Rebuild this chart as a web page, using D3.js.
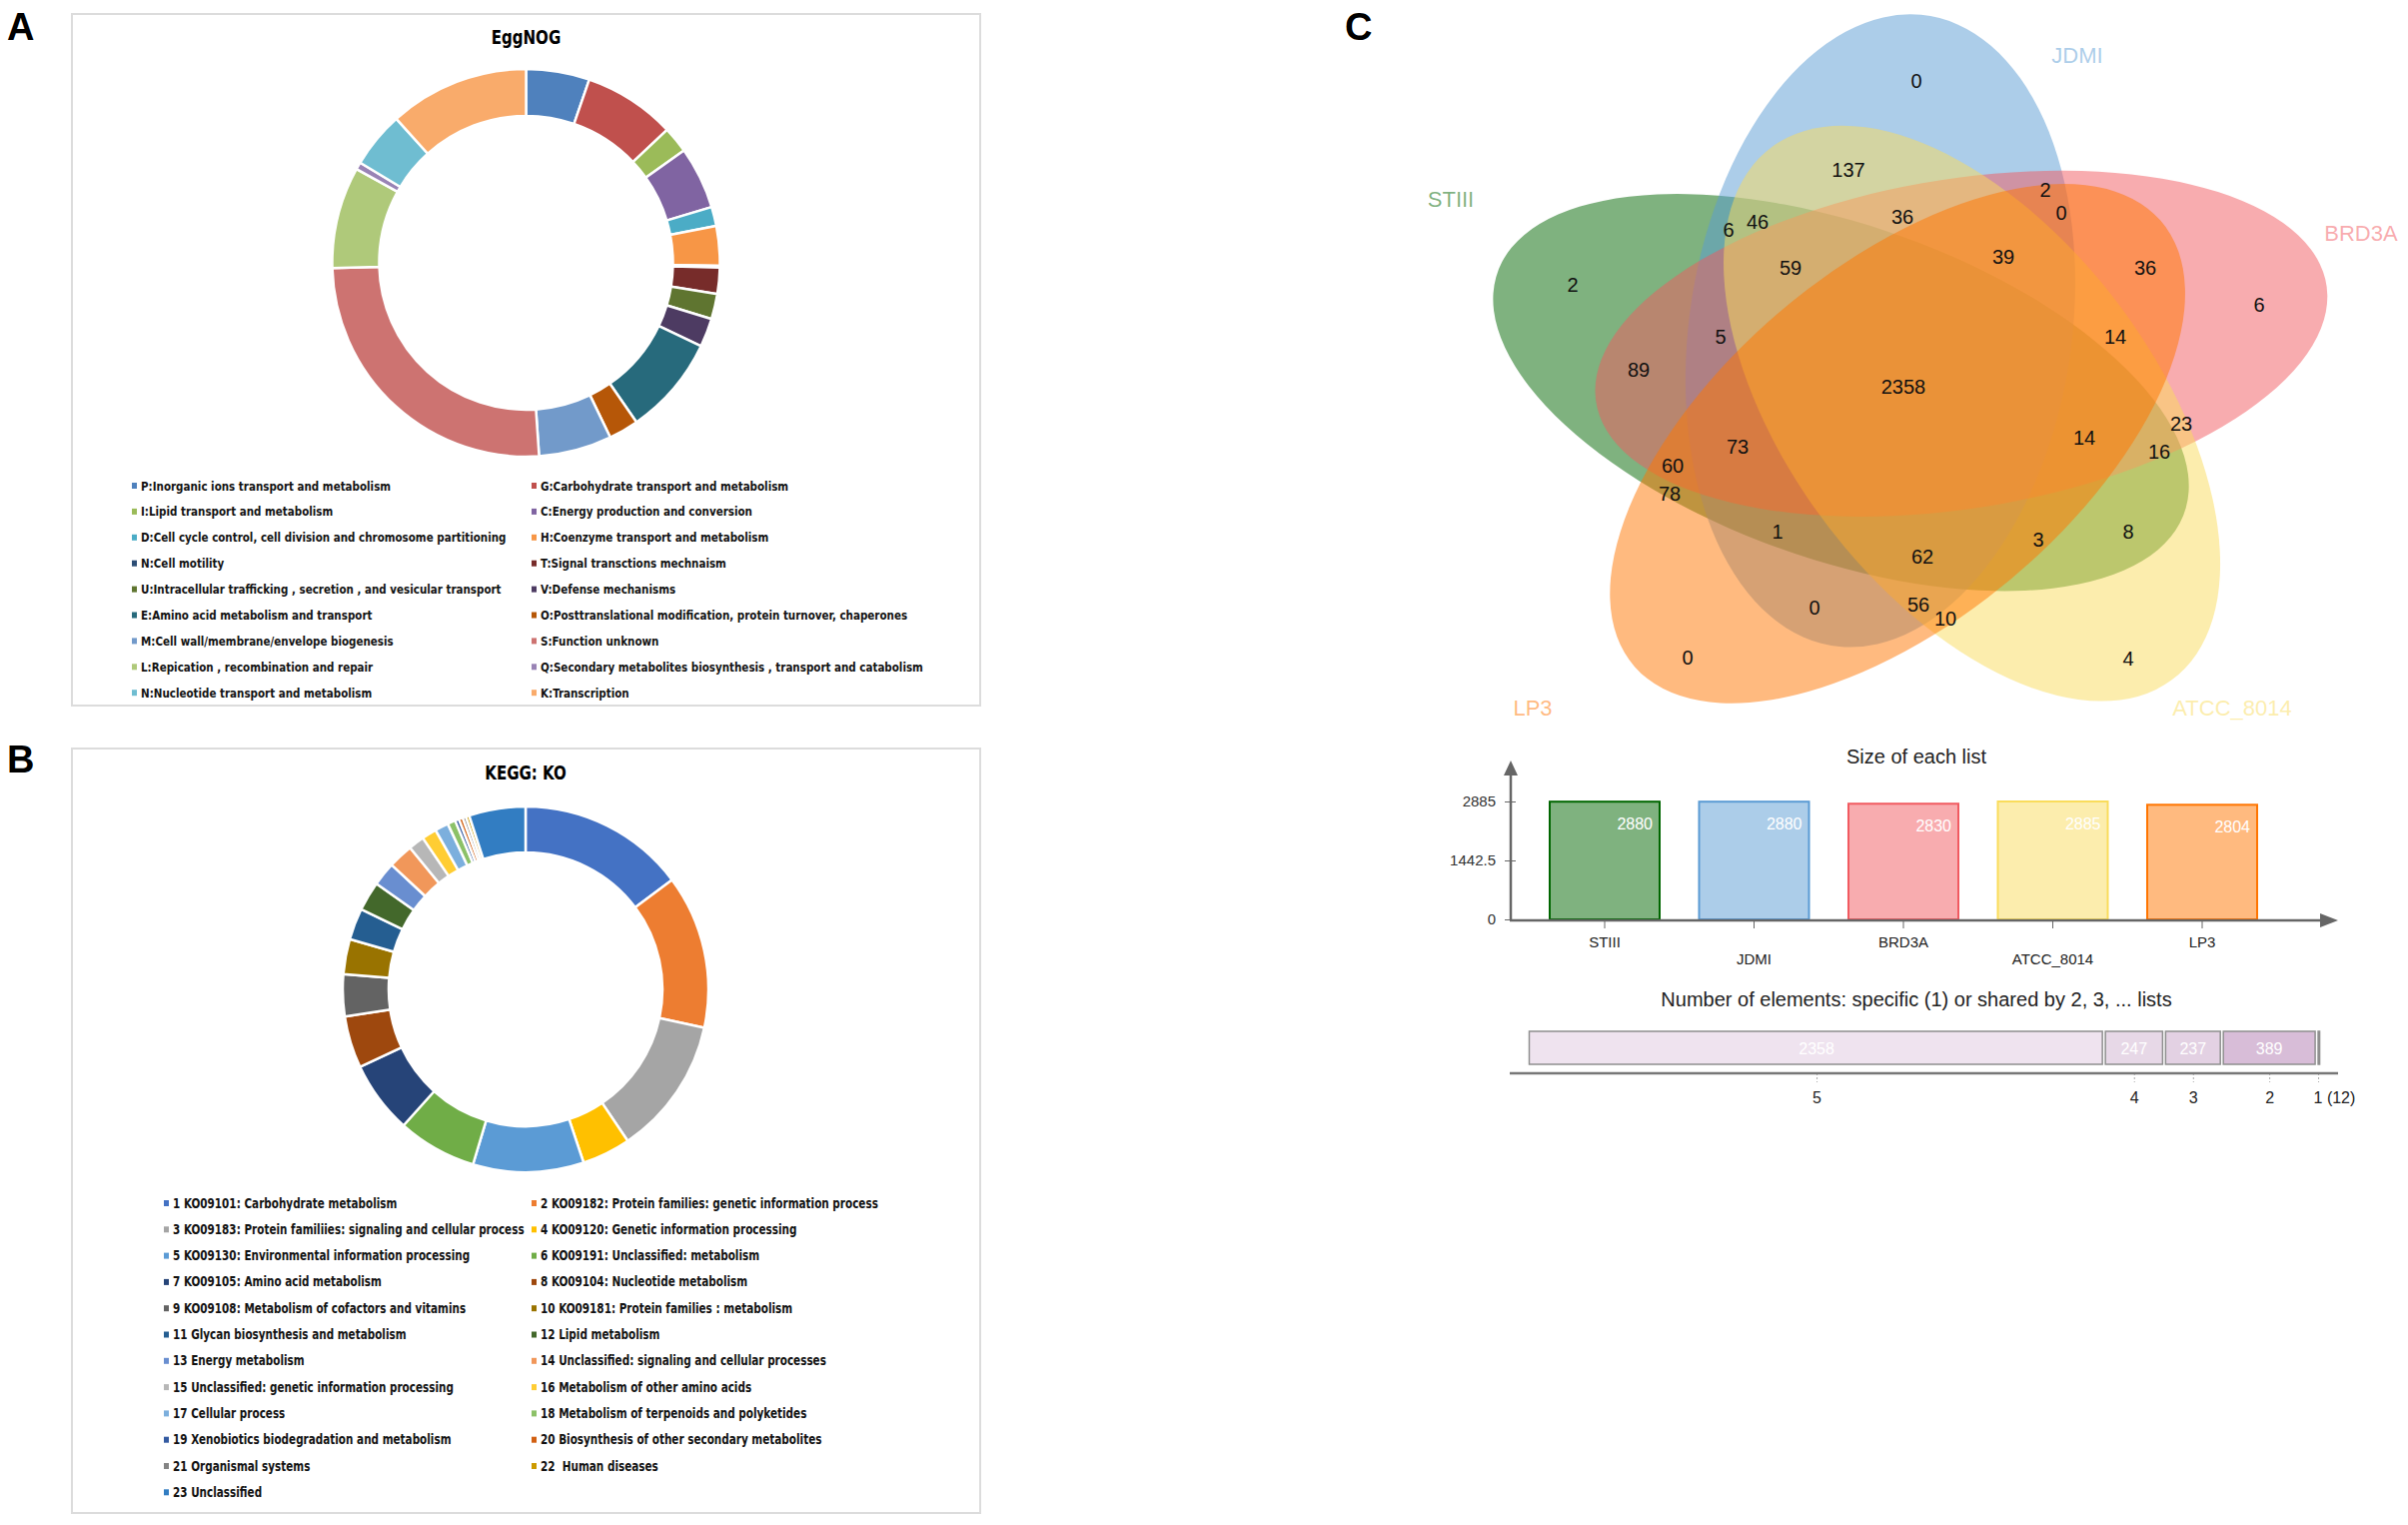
<!DOCTYPE html>
<html>
<head>
<meta charset="utf-8">
<script src="https://cdn.jsdelivr.net/npm/d3@7"></script>
<style>
  html, body { margin: 0; padding: 0; background: #fff; }
  svg { display: block; }
  .panel-letter { font-family: "Liberation Sans", Arial, sans-serif; font-weight: bold; font-size: 38px; fill: #000; }
  .donut-title { font-family: "Liberation Sans Narrow", "Arial Narrow", "DejaVu Sans Condensed", sans-serif; font-weight: bold; font-size: 19px; fill: #000; }
  .legend text { font-family: "Liberation Sans Narrow", "Arial Narrow", "DejaVu Sans Condensed", sans-serif; font-weight: bold; font-size: 13px; fill: #111; white-space: pre; }
  .venn text, .stats text { font-family: "Liberation Sans", Arial, sans-serif; }
</style>
</head>
<body>
<svg id="fig" width="2410" height="1526"></svg>
<script>
// ---- A: EggNOG (slice order = legend order, clockwise from 12 o'clock), % of genes
var eggnogLabels = [
    "P:Inorganic ions transport and metabolism",
    "G:Carbohydrate transport and metabolism",
    "I:Lipid transport and metabolism",
    "C:Energy production and conversion",
    "D:Cell cycle control, cell division and chromosome partitioning",
    "H:Coenzyme transport and metabolism",
    "N:Cell motility",
    "T:Signal transctions mechnaism",
    "U:Intracellular trafficking , secretion , and vesicular transport",
    "V:Defense mechanisms",
    "E:Amino acid metabolism and transport",
    "O:Posttranslational modification, protein turnover, chaperones",
    "M:Cell wall/membrane/envelope biogenesis",
    "S:Function unknown",
    "L:Repication , recombination and repair",
    "Q:Secondary metabolites biosynthesis , transport and catabolism",
    "N:Nucleotide transport and metabolism",
    "K:Transcription"
];
var eggnogValues = [5.3, 7.7, 2.2, 5.2, 1.6, 3.3, 0.15, 2.2, 2.1, 2.4, 8.3, 2.5, 6.1, 25.7, 8.5, 0.6, 4.7, 11.7];
var eggnogColors = ["#4f81bd", "#c0504d", "#9bbb59", "#8064a2", "#4bacc6", "#f79646",
                    "#2c4d75", "#772c2a", "#5f7530", "#4d3b62", "#276a7c", "#b65708",
                    "#729aca", "#cd7371", "#afc97a", "#9983b5", "#6fbdd1", "#f9ab6b"];

// ---- B: KEGG KO level-2 categories, % of genes
var keggLabels = [
    "1 KO09101: Carbohydrate metabolism",
    "2 KO09182: Protein families: genetic information process",
    "3 KO09183: Protein familiies: signaling and cellular process",
    "4 KO09120: Genetic information processing",
    "5 KO09130: Environmental information processing",
    "6 KO09191: Unclassified: metabolism",
    "7 KO09105: Amino acid metabolism",
    "8 KO09104: Nucleotide metabolism",
    "9 KO09108: Metabolism of cofactors and vitamins",
    "10 KO09181: Protein families : metabolism",
    "11 Glycan biosynthesis and metabolism",
    "12 Lipid metabolism",
    "13 Energy metabolism",
    "14 Unclassified: signaling and cellular processes",
    "15 Unclassified: genetic information processing",
    "16 Metabolism of other amino acids",
    "17 Cellular process",
    "18 Metabolism of terpenoids and polyketides",
    "19 Xenobiotics biodegradation and metabolism",
    "20 Biosynthesis of other secondary metabolites",
    "21 Organismal systems",
    "22  Human diseases",
    "23 Unclassified"
];
var keggValues = [14.8, 13.6, 12.2, 4.3, 9.8, 7.0, 6.4, 4.6, 3.7, 3.1, 2.8, 2.6, 2.1, 2.2, 1.4, 1.3, 1.2, 0.7, 0.35, 0.35, 0.3, 0.3, 5.0];
var keggColors = ["#4472c4", "#ed7d31", "#a5a5a5", "#ffc000", "#5b9bd5", "#70ad47",
                  "#264478", "#9e480e", "#636363", "#997300", "#255e91", "#43682b",
                  "#698ed0", "#f1975a", "#b7b7b7", "#ffcd33", "#7cafdd", "#8cc168",
                  "#335aa1", "#d26012", "#848484", "#cc9a00", "#327dc2"];

// ---- C: five strains
var listNames  = ["STIII", "JDMI", "BRD3A", "ATCC_8014", "LP3"];
var listSizes  = [2880, 2880, 2830, 2885, 2804];
var listColors = ["rgb(0,102,0)", "rgb(90,155,212)", "rgb(241,90,96)", "rgb(250,220,91)", "rgb(255,117,0)"];
var sizeTicks  = [0, 1442.5, 2885];

// counts of the 31 Venn regions
var regionCounts = [0, 137, 2, 0, 36, 46, 6, 59, 39, 36, 2, 6, 5, 14, 89, 2358,
                    23, 14, 16, 73, 60, 78, 8, 1, 3, 62, 0, 56, 10, 0, 4];

// elements shared by 5, 4, 3, 2 lists and specific to 1 list
var sharedBy     = ["5", "4", "3", "2", "1"];
var sharedCounts = [2358, 247, 237, 389, 12];
var sharedColors = ["#efe3ef", "#e7d8e7", "#e3d1e3", "#d8bdd8", "#a9a1a9"];

// ---------------------------------------------------------------- layout
var svg = d3.select("#fig");
svg.append("rect").attr("width", 2410).attr("height", 1526).attr("fill", "#fff");

svg.append("text").attr("class", "panel-letter").attr("x", 7).attr("y", 40).text("A");
svg.append("text").attr("class", "panel-letter").attr("x", 7).attr("y", 773).text("B");
svg.append("text").attr("class", "panel-letter").attr("x", 1346).attr("y", 40).text("C");

function drawDonut(cfg) {
    var g = svg.append("g");
    g.append("rect")
        .attr("x", cfg.box[0]).attr("y", cfg.box[1])
        .attr("width", cfg.box[2]).attr("height", cfg.box[3])
        .attr("fill", "#fff").attr("stroke", "#dcdcdc").attr("stroke-width", 2);

    // no narrow font installed: squeeze the bold sans instead
    g.append("text").attr("class", "donut-title")
        .attr("transform", "translate(" + cfg.center[0] + "," + cfg.titleY + ") scale(0.88,1)")
        .attr("text-anchor", "middle").text(cfg.title);

    var pie = d3.pie().sort(null).value(function(d){ return d; });
    var arc = d3.arc().innerRadius(cfg.inner).outerRadius(cfg.outer);

    g.append("g")
        .attr("transform", "translate(" + cfg.center + ")")
        .selectAll("path")
        .data(pie(cfg.values))
        .join("path")
        .attr("d", arc)
        .attr("fill", function(d, i){ return cfg.colors[i]; })
        .attr("stroke", "#fff")
        .attr("stroke-width", 2.5)
        .attr("stroke-linejoin", "round");

    // two-column legend, row-major
    var leg = g.append("g").attr("class", "legend");
    var item = leg.selectAll("g")
        .data(cfg.labels)
        .join("g")
        .attr("transform", function(d, i){
            return "translate(" + cfg.legendX[i % 2] + "," + (cfg.legendY + Math.floor(i / 2) * cfg.legendStep) + ")";
        });
    item.append("rect")
        .attr("x", 0).attr("y", -3).attr("width", 5).attr("height", 6)
        .attr("fill", function(d, i){ return cfg.colors[i]; });
    item.append("text")
        .attr("transform", "translate(9,4.5) scale(" + cfg.legendSqueeze + ",1)")
        .style("font-size", cfg.legendFont + "px")
        .text(function(d){ return d; });
}

drawDonut({
    title: "EggNOG", box: [72, 14, 909, 692], titleY: 44,
    center: [526.5, 263], outer: 194, inner: 147,
    values: eggnogValues, colors: eggnogColors, labels: eggnogLabels,
    legendX: [132, 532], legendY: 486, legendStep: 25.9, legendFont: 12.5, legendSqueeze: 0.92
});

drawDonut({
    title: "KEGG: KO", box: [72, 749, 909, 765], titleY: 780,
    center: [526, 990], outer: 183, inner: 137,
    values: keggValues, colors: keggColors, labels: keggLabels,
    legendX: [164, 532], legendY: 1204, legendStep: 26.3, legendFont: 13.5, legendSqueeze: 0.86
});

// ---------------------------------------------------------------- C: Venn
// jvenn style 5-ellipse flower, stretched horizontally
var vennCenter = [1912, 385], vennStretch = 1.17;
var ellipseA = 318, ellipseB = 164, ellipseOffset = [-25.7, -54.1], ellipseTilt = 6.3;
var vennSlot = [4, 0, 1, 2, 3];   // place of each list around the flower, clockwise from top

var venn = svg.append("g").attr("class", "venn");
venn.append("g")
    .attr("transform", "translate(" + vennCenter + ") scale(" + vennStretch + ",1)")
    .selectAll("ellipse")
    .data(listNames)
    .join("ellipse")
    .attr("transform", function(d, i){
        return "rotate(" + vennSlot[i] * 72 + ") translate(" + ellipseOffset + ") rotate(" + ellipseTilt + ")";
    })
    .attr("rx", ellipseB).attr("ry", ellipseA)
    .attr("fill", function(d, i){ return listColors[i]; })
    .attr("fill-opacity", 0.5);

var setLabelPos = [[1452, 199], [2079, 55], [2363, 233], [2234, 708], [1534, 708]];
venn.selectAll("text.setname")
    .data(listNames)
    .join("text")
    .attr("class", "setname")
    .attr("x", function(d, i){ return setLabelPos[i][0]; })
    .attr("y", function(d, i){ return setLabelPos[i][1] + 8; })
    .attr("text-anchor", "middle")
    .style("font-size", "22px")
    .attr("fill", function(d, i){ return listColors[i]; })
    .attr("fill-opacity", 0.5)
    .text(function(d){ return d; });

var regionLabelPos = [
    [1918, 81], [1850, 170], [2047, 190], [2063, 213], [1904, 217], [1759, 222], [1730, 230],
    [1792, 268], [2005, 257], [2147, 268], [1574, 285], [2261, 305], [1722, 337], [2117, 337],
    [1640, 370], [1905, 387], [2183, 424], [2086, 438], [2161, 452], [1739, 447], [1674, 466],
    [1671, 494], [2130, 532], [1779, 532], [2040, 540], [1924, 557], [1816, 608], [1920, 605],
    [1947, 619], [1689, 658], [2130, 659]
];
venn.selectAll("text.count")
    .data(regionCounts)
    .join("text")
    .attr("class", "count")
    .attr("x", function(d, i){ return regionLabelPos[i][0]; })
    .attr("y", function(d, i){ return regionLabelPos[i][1] + 7; })
    .attr("text-anchor", "middle")
    .style("font-size", "20px")
    .attr("fill", "#111")
    .text(function(d){ return d; });

// ---------------------------------------------------------------- C: size of each list
var stats = svg.append("g").attr("class", "stats");
var axisColor = "#666";

stats.append("text")
    .attr("x", 1918).attr("y", 764).attr("text-anchor", "middle")
    .style("font-size", "20px").attr("fill", "#222")
    .text("Size of each list");

var x = d3.scaleBand().domain(listNames).range([1531.25, 2278.75]).paddingInner(0.2642).paddingOuter(0.1321);
var y = d3.scaleLinear().domain([0, 2885]).range([920, 802]);

stats.selectAll("rect.size")
    .data(listSizes)
    .join("rect")
    .attr("class", "size")
    .attr("x", function(d, i){ return x(listNames[i]); })
    .attr("y", function(d){ return y(d); })
    .attr("width", x.bandwidth())
    .attr("height", function(d){ return y(0) - y(d); })
    .attr("fill", function(d, i){ return listColors[i]; })
    .attr("fill-opacity", 0.5)
    .attr("stroke", function(d, i){ return listColors[i]; })
    .attr("stroke-width", 2);

stats.selectAll("text.size")
    .data(listSizes)
    .join("text")
    .attr("class", "size")
    .attr("x", function(d, i){ return x(listNames[i]) + x.bandwidth() - 7; })
    .attr("y", function(d){ return y(d) + 28; })
    .attr("text-anchor", "end")
    .style("font-size", "16px")
    .attr("fill", "#fff")
    .text(function(d){ return d; });

var yAxis = stats.append("g")
    .attr("transform", "translate(1512,0)")
    .call(d3.axisLeft(y).tickValues(sizeTicks).tickSizeOuter(0).tickSizeInner(6).tickPadding(9)
        .tickFormat(function(d){ return d; }));
yAxis.select(".domain").remove();
yAxis.selectAll(".tick line").attr("x1", -6).attr("x2", 5).attr("stroke", axisColor);
yAxis.selectAll(".tick text").style("font-size", "15px").attr("fill", "#333");

var xAxis = stats.append("g")
    .attr("transform", "translate(0,921)")
    .call(d3.axisBottom(x).tickSizeOuter(0).tickSizeInner(8).tickPadding(8));
xAxis.select(".domain").remove();
xAxis.selectAll(".tick line").attr("stroke", axisColor);
xAxis.selectAll(".tick text")
    .style("font-size", "15px").attr("fill", "#222")
    .attr("dy", function(d, i){ return i % 2 ? "1.85em" : "0.71em"; });

// axis lines with arrow heads
stats.append("path").attr("d", "M1512,921V772").attr("stroke", axisColor).attr("stroke-width", 2.5);
stats.append("path").attr("d", "M1505,776L1512,761L1519,776Z").attr("fill", axisColor);
stats.append("path").attr("d", "M1511,921H2326").attr("stroke", axisColor).attr("stroke-width", 2.5);
stats.append("path").attr("d", "M2322,914L2340,921L2322,928Z").attr("fill", axisColor);

// ---------------------------------------------------------------- C: shared elements
stats.append("text")
    .attr("x", 1918).attr("y", 1007).attr("text-anchor", "middle")
    .style("font-size", "20px").attr("fill", "#222")
    .text("Number of elements: specific (1) or shared by 2, 3, ... lists");

var total = d3.sum(sharedCounts);
var xs = d3.scaleLinear().domain([0, total]).range([1530.5, 2321.5]);
var cum = d3.cumsum(sharedCounts);
var starts = cum.map(function(c, i){ return c - sharedCounts[i]; });

stats.selectAll("rect.shared")
    .data(sharedCounts)
    .join("rect")
    .attr("class", "shared")
    .attr("x", function(d, i){ return xs(starts[i]) + (i ? 1.5 : 0); })
    .attr("y", 1032)
    .attr("width", function(d, i){ return Math.max(1.5, xs(cum[i]) - xs(starts[i]) - (i ? 3 : 1.5)); })
    .attr("height", 33)
    .attr("fill", function(d, i){ return sharedColors[i]; })
    .attr("stroke", "#8f8f8f")
    .attr("stroke-width", 1.5);

stats.selectAll("text.shared")
    .data(sharedCounts.filter(function(d){ return xs(d) - xs(0) > 30; }))
    .join("text")
    .attr("class", "shared")
    .attr("x", function(d, i){ return (xs(starts[i]) + xs(cum[i])) / 2; })
    .attr("y", 1055)
    .attr("text-anchor", "middle")
    .style("font-size", "16px")
    .attr("fill", "#fff")
    .text(function(d){ return d; });

var centers = sharedCounts.map(function(d, i){ return (starts[i] + cum[i]) / 2; });
var sharedAxis = stats.append("g")
    .attr("transform", "translate(0,1074)")
    .call(d3.axisBottom(xs).tickValues(centers).tickSizeOuter(0).tickSizeInner(9).tickPadding(10)
        .tickFormat(function(d, i){
            // too narrow to hold its number: show the count next to the tick label
            return xs(sharedCounts[i]) - xs(0) > 30 ? sharedBy[i] : sharedBy[i] + " (" + sharedCounts[i] + ")";
        }));
sharedAxis.select(".domain").remove();
sharedAxis.selectAll(".tick line").attr("stroke", "#aaa").attr("stroke-dasharray", "2,2");
sharedAxis.selectAll(".tick text").style("font-size", "16px").attr("fill", "#222");
sharedAxis.selectAll(".tick").filter(function(d, i){ return i === sharedCounts.length - 1; })
    .select("text").attr("text-anchor", "start").attr("x", -5);
stats.append("path").attr("d", "M1511,1074H2340").attr("stroke", "#777").attr("stroke-width", 2.5);
</script>
</body>
</html>
